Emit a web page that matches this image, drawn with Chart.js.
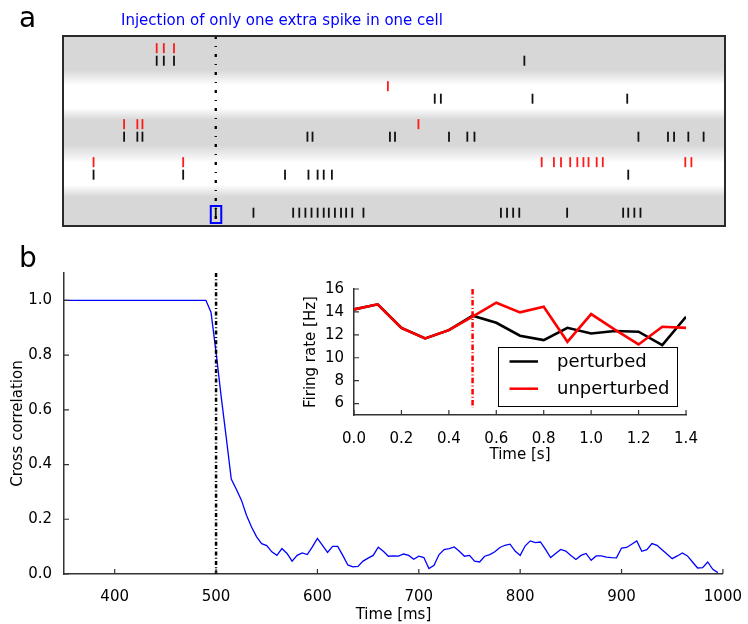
<!DOCTYPE html>
<html>
<head>
<meta charset="utf-8">
<script src="https://cdn.jsdelivr.net/npm/chart.js@4.4.1/dist/chart.umd.min.js"></script>
<style>
  html, body { margin: 0; padding: 0; background: #fff; }
  #page { position: relative; width: 748px; height: 624px; overflow: hidden; font-family: 'DejaVu Sans', sans-serif; }
  canvas { position: absolute; }
  .panel { position: absolute; font-size: 28px; line-height: 1; color: #000; }
  #titleA { position: absolute; left: 121px; top: 13px; font-size: 15px; line-height: 1; color: #0000ff; white-space: nowrap; }
</style>
</head>
<body>
<div id="page">
  <canvas id="raster" width="748" height="240" style="left:0;top:0"></canvas>
  <canvas id="crossCorr" width="748" height="384" style="left:0;top:240px"></canvas>
  <canvas id="rate" width="440" height="190" style="left:290px;top:275px"></canvas>
  <div class="panel" style="left:19px;top:4px">a</div>
  <div class="panel" style="left:19px;top:244px">b</div>
  <div id="titleA">Injection of only one extra spike in one cell</div>
</div>
<script>
// ---------- panel a : spike raster (ms), one row per cell, top row first ----------
const unperturbedSpikes = [
  [442, 449, 459],
  [669],
  [410, 423, 428, 699],
  [380, 468, 820, 832, 839, 848, 855, 861, 866, 874, 880, 961, 967],
  []
];
const perturbedSpikes = [
  [442, 449, 459, 803],
  [715, 721, 811, 904],
  [410, 423, 428, 590, 595, 671, 676, 729, 747, 754, 915, 944, 950, 964, 979],
  [380, 468, 568, 591, 600, 606, 614, 905],
  [500, 537, 576, 582, 588, 594, 600, 606, 611, 617, 623, 628, 634, 645, 780, 786, 792, 798, 845, 900, 905, 911, 917]
];
const injectionTime = 500;   // ms
const injectedCell = 4;

// ---------- panel b : cross correlation, sampled every 5 ms from 350 ms ----------
const ccStart = 350;
const ccStep = 5;
const ccValues = [
  1.0, 1.0, 1.0, 1.0, 1.0, 1.0, 1.0, 1.0, 1.0, 1.0,
  1.0, 1.0, 1.0, 1.0, 1.0, 1.0, 1.0, 1.0, 1.0, 1.0,
  1.0, 1.0, 1.0, 1.0, 1.0, 1.0, 1.0, 1.0, 1.0,
  0.957, 0.81, 0.65, 0.50, 0.347, 0.31, 0.27, 0.215, 0.172, 0.136,
  0.111, 0.104, 0.081, 0.068, 0.093, 0.075, 0.047, 0.068, 0.077, 0.071,
  0.099, 0.130, 0.105, 0.079, 0.101, 0.101, 0.068, 0.033, 0.026, 0.028,
  0.047, 0.058, 0.068, 0.098, 0.083, 0.065, 0.066, 0.065, 0.073, 0.068,
  0.054, 0.065, 0.060, 0.020, 0.032, 0.071, 0.089, 0.093, 0.099, 0.083,
  0.065, 0.068, 0.047, 0.044, 0.065, 0.071, 0.081, 0.097, 0.105, 0.109,
  0.084, 0.068, 0.103, 0.121, 0.115, 0.117, 0.090, 0.060, 0.075, 0.090,
  0.084, 0.068, 0.053, 0.068, 0.075, 0.050, 0.066, 0.066, 0.062, 0.060,
  0.059, 0.095, 0.097, 0.109, 0.121, 0.083, 0.089, 0.111, 0.105, 0.089,
  0.072, 0.056, 0.066, 0.077, 0.066, 0.044, 0.022, 0.023, 0.044, 0.017,
  0.005
];
const ccXTicks = [400, 500, 600, 700, 800, 900, 1000];
const ccYTicks = [0.0, 0.2, 0.4, 0.6, 0.8, 1.0];

// ---------- inset : firing rate ----------
const rateTimes = [0.0, 0.1, 0.2, 0.3, 0.4, 0.5, 0.6, 0.7, 0.8, 0.9, 1.0, 1.1, 1.2, 1.3, 1.4];
const perturbedRate = [14.22, 14.66, 12.61, 11.69, 12.41, 13.67, 13.05, 11.92, 11.54, 12.61, 12.12, 12.33, 12.27, 11.10, 13.58];
const unperturbedRate = [14.22, 14.66, 12.61, 11.69, 12.41, 13.58, 14.80, 13.96, 14.45, 11.39, 13.81, 12.45, 11.16, 12.70, 12.61];
const rateXTicks = [0.0, 0.2, 0.4, 0.6, 0.8, 1.0, 1.2, 1.4];
const rateYTicks = [6, 8, 10, 12, 14, 16];
const injectionTimeSec = 0.5;

Chart.defaults.font.family = "'DejaVu Sans', sans-serif";
Chart.defaults.font.size = 15;
Chart.defaults.color = '#000';

// ---------- plugins ----------
const vMarker = {
  id: 'vMarker',
  afterDatasetsDraw(chart, args, opts) {
    const {ctx, chartArea: a, scales: {x}} = chart;
    const px = x.getPixelForValue(opts.value);
    ctx.save();
    ctx.strokeStyle = opts.color;
    ctx.lineWidth = opts.width;
    ctx.setLineDash(opts.dash);
    ctx.beginPath();
    ctx.moveTo(px, a.top);
    ctx.lineTo(px, a.bottom - (opts.stopShort || 0));
    ctx.stroke();
    ctx.restore();
  }
};

const innerTicks = {
  id: 'innerTicks',
  afterDraw(chart) {
    const {ctx, chartArea: a, scales: {x, y}} = chart;
    ctx.save();
    ctx.strokeStyle = '#333';
    ctx.lineWidth = 1.2;
    ctx.beginPath();
    x.ticks.forEach(t => {
      const p = x.getPixelForValue(t.value);
      ctx.moveTo(p, a.bottom);
      ctx.lineTo(p, a.bottom - 5);
    });
    y.ticks.forEach(t => {
      const p = y.getPixelForValue(t.value);
      ctx.moveTo(a.left, p);
      ctx.lineTo(a.left + 5, p);
    });
    ctx.stroke();
    ctx.restore();
  }
};

const rasterDecor = {
  id: 'rasterDecor',
  beforeDatasetsDraw(chart) {
    const {ctx, chartArea: a} = chart;
    const g = ctx.createLinearGradient(0, a.top, 0, a.bottom);
    const gray = '#d7d7d7';
    [[0, gray], [0.179, gray], [0.258, '#fff'], [0.379, '#fff'], [0.442, gray],
     [0.574, gray], [0.668, '#fff'], [0.784, '#fff'], [0.847, gray], [1, gray]]
      .forEach(([o, c]) => g.addColorStop(o, c));
    ctx.save();
    ctx.fillStyle = g;
    ctx.fillRect(a.left, a.top, a.width, a.height);
    ctx.restore();
  },
  afterDraw(chart) {
    const {ctx, chartArea: a, scales: {x, y}} = chart;
    ctx.save();
    // highlight the injected spike
    const px = x.getPixelForValue(injectionTime);
    const py = y.getPixelForValue(perturbedY(injectedCell));
    ctx.strokeStyle = '#0000ff';
    ctx.lineWidth = 2;
    ctx.strokeRect(px - 5, py - 6.7, 10.5, 17);
    // frame
    ctx.strokeStyle = '#2a2a2a';
    ctx.lineWidth = 2;
    ctx.strokeRect(a.left, a.top, a.width, a.height);
    ctx.restore();
  }
};

const insetLegend = {
  id: 'insetLegend',
  afterDraw(chart) {
    const {ctx, chartArea: a} = chart;
    const w = 179, h = 59;
    const bx = Math.round(a.right - 9 - w), by = Math.round(a.bottom - 9 - h);
    ctx.save();
    ctx.fillStyle = '#fff';
    ctx.fillRect(bx, by, w, h);
    ctx.strokeStyle = '#000';
    ctx.lineWidth = 1;
    ctx.strokeRect(bx + 0.5, by + 0.5, w, h);
    ctx.font = "18px 'DejaVu Sans', sans-serif";
    ctx.textBaseline = 'middle';
    chart.data.datasets.forEach((d, i) => {
      const ly = by + 14.5 + i * 27.2;
      ctx.strokeStyle = d.borderColor;
      ctx.lineWidth = 2.5;
      ctx.beginPath();
      ctx.moveTo(bx + 11.5, ly);
      ctx.lineTo(bx + 40, ly);
      ctx.stroke();
      ctx.fillStyle = '#000';
      ctx.fillText(d.label, bx + 59, ly + 1);
    });
    ctx.restore();
  }
};

// ---------- panel a ----------
const nCells = perturbedSpikes.length;
function unperturbedY(cell){ return nCells - cell - 0.32; }
function perturbedY(cell){ return nCells - cell - 0.65; }

function spikePoints(spikes, yFn){
  const pts = [];
  spikes.forEach((row, cell) => row.forEach(t => pts.push({x: t, y: yFn(cell)})));
  return pts;
}

new Chart(document.getElementById('raster'), {
  type: 'scatter',
  data: {
    datasets: [
      { label: 'unperturbed', data: spikePoints(unperturbedSpikes, unperturbedY),
        borderColor: '#ff1a1a', backgroundColor: '#ff1a1a' },
      { label: 'perturbed', data: spikePoints(perturbedSpikes, perturbedY),
        borderColor: '#111', backgroundColor: '#111' }
    ]
  },
  options: {
    responsive: false,
    animation: false,
    devicePixelRatio: 1,
    layout: { padding: { left: 63, top: 36, right: 23, bottom: 14 } },
    elements: { point: { pointStyle: 'line', rotation: 90, radius: 5, borderWidth: 1.8, hoverRadius: 5 } },
    scales: {
      x: { type: 'linear', min: 350, max: 1000, display: false },
      y: { type: 'linear', min: 0, max: nCells, display: false }
    },
    plugins: {
      legend: { display: false },
      tooltip: { enabled: false },
      vMarker: { value: injectionTime, color: '#000', width: 2.3, dash: [3, 7, 1, 7] }
    }
  },
  plugins: [rasterDecor, vMarker]
});

// ---------- panel b ----------
const ccTimes = ccValues.map((_, i) => ccStart + i * ccStep);

new Chart(document.getElementById('crossCorr'), {
  type: 'line',
  data: {
    datasets: [{
      label: 'Cross correlation',
      data: ccTimes.map((t, i) => ({x: t, y: ccValues[i]})),
      borderColor: '#0000ff',
      borderWidth: 1.3,
      pointRadius: 0,
      tension: 0,
      fill: false
    }]
  },
  options: {
    responsive: false,
    animation: false,
    devicePixelRatio: 1,
    layout: { padding: { left: 0, top: 33, right: 21, bottom: 0 } },
    scales: {
      x: {
        type: 'linear', min: 350, max: 1000,
        afterBuildTicks: s => { s.ticks = ccXTicks.map(v => ({value: v})); },
        afterFit: s => { s.height = 50; },
        grid: { display: false },
        border: { color: '#333', width: 1.5 },
        ticks: { padding: 6, maxRotation: 0, autoSkip: false, callback: v => String(v) },
        title: { display: true, text: 'Time [ms]', padding: { top: 0, bottom: 0 } }
      },
      y: {
        type: 'linear', min: 0, max: 1.1,
        afterBuildTicks: s => { s.ticks = ccYTicks.map(v => ({value: v})); },
        afterFit: s => { s.width = 64; },
        grid: { display: false },
        border: { color: '#333', width: 1.5 },
        ticks: { padding: 4, callback: v => v.toFixed(1) },
        title: { display: true, text: 'Cross correlation', padding: { top: 9, bottom: 0 } }
      }
    },
    plugins: {
      legend: { display: false },
      tooltip: { enabled: false },
      vMarker: { value: injectionTime, color: '#000', width: 2.5, dash: [4, 2.3, 1, 2.3] }
    }
  },
  plugins: [vMarker, innerTicks]
});

// ---------- inset ----------
new Chart(document.getElementById('rate'), {
  type: 'line',
  data: {
    datasets: [
      { label: 'perturbed', data: rateTimes.map((t, i) => ({x: t, y: perturbedRate[i]})),
        borderColor: '#000', borderWidth: 2.6, pointRadius: 0, tension: 0, order: 1 },
      { label: 'unperturbed', data: rateTimes.map((t, i) => ({x: t, y: unperturbedRate[i]})),
        borderColor: '#ff0000', borderWidth: 2.6, pointRadius: 0, tension: 0, order: 0 }
    ]
  },
  options: {
    responsive: false,
    animation: false,
    devicePixelRatio: 1,
    layout: { padding: { left: 0, top: 14, right: 44, bottom: 0 } },
    scales: {
      x: {
        type: 'linear', min: 0, max: 1.4,
        afterBuildTicks: s => { s.ticks = rateXTicks.map(v => ({value: v})); },
        afterFit: s => { s.height = 50; },
        grid: { display: false },
        border: { color: '#333', width: 1.5 },
        ticks: { padding: 7, maxRotation: 0, autoSkip: false, callback: v => v.toFixed(1) },
        title: { display: true, text: 'Time [s]', padding: { top: 0, bottom: 1 } }
      },
      y: {
        type: 'linear', min: 5, max: 16,
        afterBuildTicks: s => { s.ticks = rateYTicks.map(v => ({value: v})); },
        afterFit: s => { s.width = 64; },
        grid: { display: false },
        border: { color: '#333', width: 1.5 },
        ticks: { padding: 2, callback: v => String(v) },
        title: { display: true, text: 'Firing rate [Hz]', padding: { top: 12, bottom: 0 } }
      }
    },
    plugins: {
      legend: { display: false },
      tooltip: { enabled: false },
      vMarker: { value: injectionTimeSec, color: '#ff0000', width: 2.5, dash: [5.5, 2.3, 1, 2.3], stopShort: 7 }
    }
  },
  plugins: [vMarker, innerTicks, insetLegend]
});
</script>
</body>
</html>
